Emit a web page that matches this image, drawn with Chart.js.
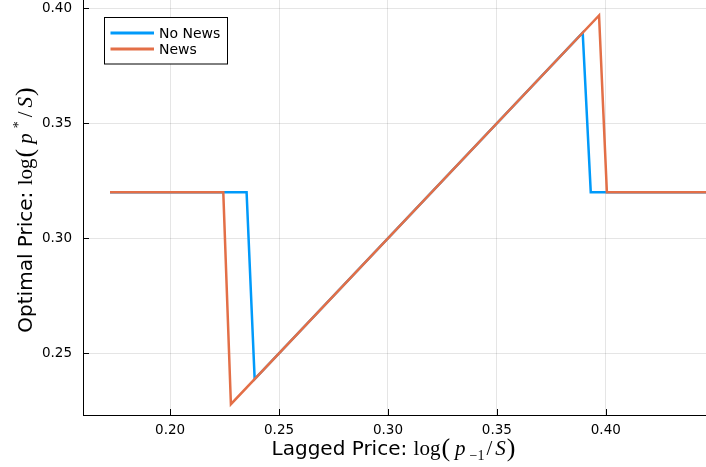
<!DOCTYPE html>
<html>
<head>
<meta charset="utf-8">
<script src="https://cdn.jsdelivr.net/npm/chart.js@4/dist/chart.umd.min.js"></script>
<style>
  html, body { margin: 0; padding: 0; background: #fff; }
  #chart { display: block; }
</style>
</head>
<body>
<canvas id="chart" width="706" height="467"></canvas>
<script>
    // values
    const noNewsX = [0.1724, 0.2351, 0.2388, 0.3894, 0.3931, 0.446];
    const noNewsY = [0.32, 0.32, 0.2388, 0.3894, 0.32, 0.32];
    const newsX = [0.1724, 0.2244, 0.2279, 0.3969, 0.4005, 0.446];
    const newsY = [0.32, 0.32, 0.2279, 0.3969, 0.32, 0.32];
    const seriesNames = ['No News', 'News'];
    const seriesColors = ['#009AFA', '#E36F47'];
    const xTickValues = [0.20, 0.25, 0.30, 0.35, 0.40];
    const yTickValues = [0.25, 0.30, 0.35, 0.40];

    const SANS = '"DejaVu Sans"';
    const SERIF = '"Liberation Serif"';

    function toPoints(xs, ys) {
        const out = [];
        for (let i = 0; i < xs.length; i++) out.push({ x: xs[i], y: ys[i] });
        return out;
    }

    // draws a row of text pieces (plain + math) centred on cx, baseline at 0
    function drawPieces(ctx, pieces, cx) {
        let total = 0;
        pieces.forEach(p => {
            ctx.font = p.f;
            p.w = ctx.measureText(p.t).width + (p.gap || 0);
            total += p.w;
        });
        let x = cx - total / 2;
        ctx.textAlign = 'left';
        ctx.textBaseline = 'alphabetic';
        ctx.fillStyle = '#000';
        pieces.forEach(p => {
            ctx.font = p.f;
            ctx.fillText(p.t, x + (p.gap || 0) / 2, p.dy || 0);
            x += p.w;
        });
    }

    const xTitle = [
        { t: 'Lagged Price: ', f: '20px ' + SANS },
        { t: 'log', f: '21px ' + SERIF },
        { t: '(', f: '26px ' + SERIF, dy: 1, gap: 2 },
        { t: 'p', f: 'italic 21px ' + SERIF, gap: 8 },
        { t: '\u22121', f: '14px ' + SERIF, dy: 5 },
        { t: '/', f: '21px ' + SERIF, gap: 4 },
        { t: 'S', f: 'italic 21px ' + SERIF, gap: 2 },
        { t: ')', f: '26px ' + SERIF, dy: 1 }
    ];
    const yTitle = [
        { t: 'Optimal Price: ', f: '20px ' + SANS },
        { t: 'log', f: '21px ' + SERIF },
        { t: '(', f: '26px ' + SERIF, dy: 1, gap: 2 },
        { t: 'p', f: 'italic 21px ' + SERIF, gap: 8 },
        { t: '*', f: '14px ' + SERIF, dy: -9, gap: 2 },
        { t: '/', f: '21px ' + SERIF, gap: 6 },
        { t: 'S', f: 'italic 21px ' + SERIF, gap: 2 },
        { t: ')', f: '26px ' + SERIF, dy: 1 }
    ];

    const extrasPlugin = {
        id: 'extras',
        afterDraw(chart) {
            const ctx = chart.ctx;
            const area = chart.chartArea;
            const xs = chart.scales.x;
            const ys = chart.scales.y;

            // inward tick marks
            ctx.save();
            ctx.strokeStyle = '#000';
            ctx.lineWidth = 1;
            ctx.beginPath();
            xTickValues.forEach(v => {
                const px = Math.round(xs.getPixelForValue(v)) + 0.5;
                ctx.moveTo(px, area.bottom);
                ctx.lineTo(px, area.bottom - 6);
            });
            yTickValues.forEach(v => {
                const py = Math.round(ys.getPixelForValue(v)) + 0.5;
                ctx.moveTo(area.left, py);
                ctx.lineTo(area.left + 6, py);
            });
            ctx.stroke();
            ctx.restore();

            // legend
            ctx.save();
            ctx.fillStyle = '#fff';
            ctx.fillRect(104.5, 17.5, 123, 46.5);
            ctx.strokeStyle = '#000';
            ctx.lineWidth = 1;
            ctx.strokeRect(104.5, 17.5, 123, 46.5);
            const rows = [33, 49];
            seriesNames.forEach((name, i) => {
                ctx.strokeStyle = seriesColors[i];
                ctx.lineWidth = 3;
                ctx.beginPath();
                ctx.moveTo(110.5, rows[i]);
                ctx.lineTo(154, rows[i]);
                ctx.stroke();
                ctx.fillStyle = '#000';
                ctx.font = '14px ' + SANS;
                ctx.textAlign = 'left';
                ctx.textBaseline = 'middle';
                ctx.fillText(name, 159, rows[i] + 1);
            });
            ctx.restore();

            // axis titles
            ctx.save();
            ctx.translate(0, 455);
            drawPieces(ctx, xTitle, (area.left + area.right) / 2 - 1);
            ctx.restore();

            ctx.save();
            ctx.translate(31.5, 210);
            ctx.rotate(-Math.PI / 2);
            drawPieces(ctx, yTitle, 0);
            ctx.restore();
        }
    };

    const tickFont = { family: 'DejaVu Sans', size: 13.5 };

    function noPad(s) {
        s.paddingTop = 0;
        s.paddingBottom = 0;
        s.paddingLeft = 0;
        s.paddingRight = 0;
    }

    new Chart(document.getElementById('chart').getContext('2d'), {
        type: 'scatter',
        data: {
            datasets: [
                {
                    label: seriesNames[0],
                    data: toPoints(noNewsX, noNewsY),
                    showLine: true,
                    borderColor: seriesColors[0],
                    backgroundColor: seriesColors[0],
                    borderWidth: 2.5,
                    pointRadius: 0,
                    tension: 0,
                    order: 1
                },
                {
                    label: seriesNames[1],
                    data: toPoints(newsX, newsY),
                    showLine: true,
                    borderColor: seriesColors[1],
                    backgroundColor: seriesColors[1],
                    borderWidth: 2.5,
                    pointRadius: 0,
                    tension: 0,
                    order: 0
                }
            ]
        },
        options: {
            responsive: false,
            devicePixelRatio: 1,
            animation: false,
            layout: { padding: 0 },
            plugins: {
                legend: { display: false },
                tooltip: { enabled: false },
                title: { display: false }
            },
            scales: {
                x: {
                    type: 'linear',
                    position: 'bottom',
                    min: 0.16,
                    max: 0.446,
                    afterBuildTicks: s => { s.ticks = xTickValues.map(v => ({ value: v })); },
                    afterFit: s => { s.height = 52; noPad(s); },
                    ticks: {
                        font: tickFont,
                        color: '#000',
                        padding: 7,
                        maxRotation: 0,
                        callback: v => Number(v).toFixed(2)
                    },
                    grid: { color: 'rgba(0,0,0,0.1)', lineWidth: 1, drawTicks: false },
                    border: { display: true, color: '#000', width: 1 }
                },
                y: {
                    type: 'linear',
                    position: 'left',
                    min: 0.2232,
                    max: 0.4036,
                    afterBuildTicks: s => { s.ticks = yTickValues.map(v => ({ value: v })); },
                    afterFit: s => { s.width = 83; noPad(s); },
                    ticks: {
                        font: tickFont,
                        color: '#000',
                        padding: 11,
                        callback: v => Number(v).toFixed(2)
                    },
                    grid: { color: 'rgba(0,0,0,0.1)', lineWidth: 1, drawTicks: false },
                    border: { display: true, color: '#000', width: 1 }
                }
            }
        },
        plugins: [extrasPlugin]
    });
</script>
</body>
</html>
